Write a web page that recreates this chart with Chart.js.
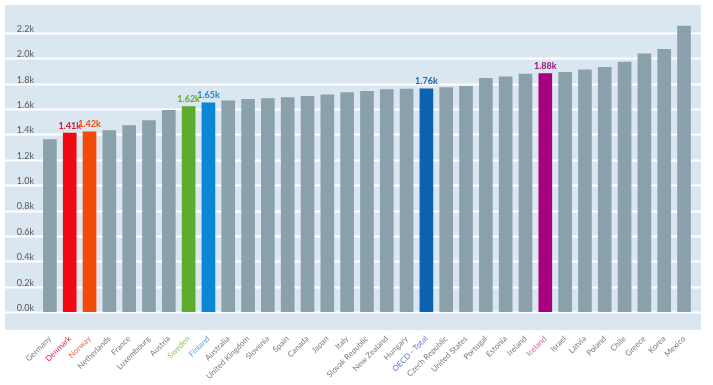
<!DOCTYPE html>
<html>
<head>
<meta charset="utf-8">
<script src="https://cdn.jsdelivr.net/npm/chart.js@4/dist/chart.umd.min.js"></script>
<style>
    html, body { margin: 0; padding: 0; background: #fff; }
    #wrap { width: 713px; height: 385px; }
</style>
</head>
<body>
<div id="wrap"><canvas id="chart" width="713" height="385"></canvas></div>
<script>
const countries = [
    "Germany", "Denmark", "Norway", "Netherlands", "France", "Luxembourg", "Austria",
    "Sweden", "Finland", "Australia", "United Kingdom", "Slovenia", "Spain", "Canada",
    "Japan", "Italy", "Slovak Republic", "New Zealand", "Hungary", "OECD - Total",
    "Czech Republic", "United States", "Portugal", "Estonia", "Ireland", "Iceland",
    "Israel", "Latvia", "Poland", "Chile", "Greece", "Korea", "Mexico"
];
// hours worked, thousands
const hours = [
    1.36, 1.41, 1.42, 1.43, 1.47, 1.51, 1.59,
    1.62, 1.65, 1.665, 1.677, 1.682, 1.69, 1.70,
    1.713, 1.73, 1.74, 1.753, 1.758, 1.76,
    1.77, 1.78, 1.842, 1.855, 1.875, 1.88,
    1.89, 1.91, 1.93, 1.97, 2.035, 2.07, 2.255
];
const yTicks = [0, 0.2, 0.4, 0.6, 0.8, 1.0, 1.2, 1.4, 1.6, 1.8, 2.0, 2.2];

const highlight = {
    "Denmark":      { bar: '#f20a12', text: '#e8254a', value: '#e8102a' },
    "Norway":       { bar: '#f24a08', text: '#f06a4a', value: '#f04a10' },
    "Sweden":       { bar: '#5fab2d', text: '#8cc66a', value: '#5fab2d' },
    "Finland":      { bar: '#0a86d6', text: '#5aa6e6', value: '#1a8ad0' },
    "OECD - Total": { bar: '#0b63b2', text: '#5a7cc8', value: '#1a68b0' },
    "Iceland":      { bar: '#a8007f', text: '#c86aa0', value: '#a0107a' },
};
const baseBar = '#8aa1ac';
const baseText = '#7a7a7a';

const panel = {
    id: 'panel',
    beforeDraw(chart) {
        const { ctx } = chart;
        const y = chart.scales.y;
        ctx.save();
        ctx.fillStyle = '#dae6f0';
        ctx.fillRect(5, 5, 696, 325);
        ctx.strokeStyle = '#ffffff';
        ctx.lineWidth = 2;
        for (const t of yTicks) {
            const py = Math.round(y.getPixelForValue(t)) + 0.5;
            ctx.beginPath();
            ctx.moveTo(5, py);
            ctx.lineTo(701, py);
            ctx.stroke();
        }
        ctx.restore();
    }
};

const valueLabels = {
    id: 'valueLabels',
    afterDatasetsDraw(chart) {
        const { ctx } = chart;
        const meta = chart.getDatasetMeta(0);
        ctx.save();
        ctx.font = 'bold 9px Lato, "Open Sans", sans-serif';
        ctx.textAlign = 'center';
        ctx.textBaseline = 'bottom';
        countries.forEach((c, i) => {
            const h = highlight[c];
            if (!h) return;
            const bar = meta.data[i];
            ctx.fillStyle = h.value;
            ctx.fillText(hours[i].toFixed(2) + 'k', bar.x, bar.y - 3);
        });
        ctx.restore();
    }
};

new Chart(document.getElementById('chart'), {
    type: 'bar',
    data: {
        labels: countries,
        datasets: [{
            data: hours,
            backgroundColor: countries.map(c => highlight[c] ? highlight[c].bar : baseBar),
            barThickness: 13,
            borderWidth: 0,
        }]
    },
    options: {
        responsive: false,
        animation: false,
        layout: { padding: { left: 0, right: 13, top: 6, bottom: 0 } },
        plugins: {
            legend: { display: false },
            tooltip: { enabled: false },
        },
        scales: {
            x: {
                grid: { display: false, drawTicks: false },
                border: { display: false },
                afterFit: s => { s.height = 73; },
                ticks: {
                    autoSkip: false,
                    maxRotation: 45,
                    minRotation: 45,
                    padding: 22,
                    font: { family: 'Lato, "Open Sans", sans-serif', size: 8 },
                    color: ctx => {
                        const h = highlight[countries[ctx.index]];
                        return h ? h.text : baseText;
                    },
                }
            },
            y: {
                min: 0,
                max: 2.37,
                grid: { display: false, drawTicks: false },
                border: { display: false },
                afterFit: s => { s.width = 40; },
                afterBuildTicks: s => { s.ticks = yTicks.map(v => ({ value: v })); },
                ticks: {
                    padding: 6,
                    labelOffset: -4,
                    color: '#595959',
                    font: { family: 'Lato, "Open Sans", sans-serif', size: 9 },
                    callback: v => v.toFixed(1) + 'k',
                }
            }
        }
    },
    plugins: [panel, valueLabels]
});
</script>
</body>
</html>
